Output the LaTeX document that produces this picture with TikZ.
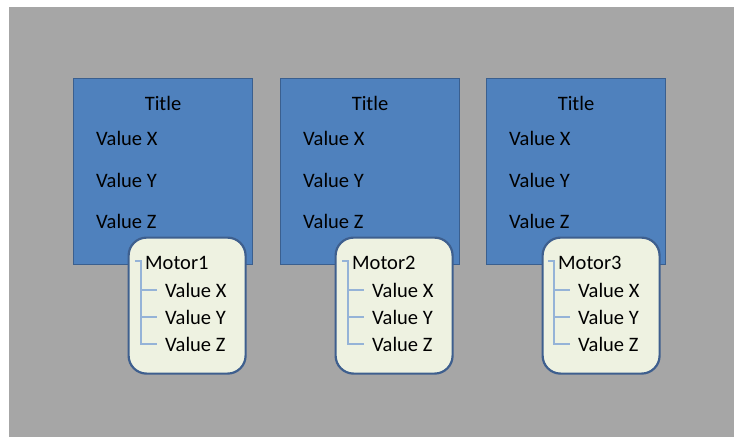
\documentclass[tikz,border=0pt]{standalone}
\usepackage{fontspec}
\setmainfont{Carlito}
\usetikzlibrary{positioning,calc}

\definecolor{canvas}{HTML}{A6A6A6}
\definecolor{panelfill}{HTML}{4F81BD}
\definecolor{paneldraw}{HTML}{3A5F8F}
\definecolor{motorfill}{HTML}{EEF2E1}
\definecolor{motordraw}{HTML}{3E5F8E}
\definecolor{treeline}{HTML}{95B3D7}

\begin{document}
\begin{tikzpicture}[
    x=1pt, y=-1pt,
    panel/.style={
        draw=paneldraw, line width=1.8pt, fill=panelfill,
        minimum width=179, minimum height=186, anchor=north west
    },
    motorbox/.style={
        draw=motordraw, line width=2.2pt, fill=motorfill,
        rounded corners=18pt,
        minimum width=117, minimum height=136, anchor=north west
    },
    title/.style={inner sep=0pt, font=\fontsize{20.5}{24}\selectfont},
    label/.style={inner sep=0pt, anchor=west, font=\fontsize{20.5}{24}\selectfont},
    tree/.style={draw=treeline, line width=1.1pt}
]
\useasboundingbox (0,0) rectangle (734,437);
\fill[white] (0,0) rectangle (734,437);
\fill[canvas] (9,7) rectangle (734,437);

% 1. Panel one
\node[panel] (p1) at (72.5,77.5) {};
\node[title] (t1) at (163,103) {Title};
\node[label] (px1) at (96,138) {Value X};
\node[label] (py1) at (96,180) {Value Y};
\node[label] (pz1) at (96,221) {Value Z};
\node[motorbox] (m1) at (127.5,236.5) {};
\node[label] (n1) at (145,263) {Motor1};
\node[label] (x1) at (165,290) {Value X};
\node[label] (y1) at (165,317) {Value Y};
\node[label] (z1) at (165,344) {Value Z};

% 2. Panel two
\node[panel] (p2) at (279.5,77.5) {};
\node[title] (t2) at (370,103) {Title};
\node[label] (px2) at (303,138) {Value X};
\node[label] (py2) at (303,180) {Value Y};
\node[label] (pz2) at (303,221) {Value Z};
\node[motorbox] (m2) at (334.5,236.5) {};
\node[label] (n2) at (352,263) {Motor2};
\node[label] (x2) at (372,290) {Value X};
\node[label] (y2) at (372,317) {Value Y};
\node[label] (z2) at (372,344) {Value Z};

% 3. Panel three
\node[panel] (p3) at (485.5,77.5) {};
\node[title] (t3) at (576,103) {Title};
\node[label] (px3) at (509,138) {Value X};
\node[label] (py3) at (509,180) {Value Y};
\node[label] (pz3) at (509,221) {Value Z};
\node[motorbox] (m3) at (541.5,236.5) {};
\node[label] (n3) at (558,263) {Motor3};
\node[label] (x3) at (578,290) {Value X};
\node[label] (y3) at (578,317) {Value Y};
\node[label] (z3) at (578,344) {Value Z};

% Tree lines
\draw[tree] ([xshift=-10pt,yshift=2pt]n1.west) -- ([xshift=-4pt,yshift=2pt]n1.west) |- ([xshift=-8pt]z1.west);
\draw[tree] ([xshift=-4pt]n1.west) |- ([xshift=-8pt]x1.west);
\draw[tree] ([xshift=-4pt]n1.west) |- ([xshift=-8pt]y1.west);

\draw[tree] ([xshift=-10pt,yshift=2pt]n2.west) -- ([xshift=-4pt,yshift=2pt]n2.west) |- ([xshift=-8pt]z2.west);
\draw[tree] ([xshift=-4pt]n2.west) |- ([xshift=-8pt]x2.west);
\draw[tree] ([xshift=-4pt]n2.west) |- ([xshift=-8pt]y2.west);

\draw[tree] ([xshift=-10pt,yshift=2pt]n3.west) -- ([xshift=-4pt,yshift=2pt]n3.west) |- ([xshift=-8pt]z3.west);
\draw[tree] ([xshift=-4pt]n3.west) |- ([xshift=-8pt]x3.west);
\draw[tree] ([xshift=-4pt]n3.west) |- ([xshift=-8pt]y3.west);

\end{tikzpicture}
\end{document}
